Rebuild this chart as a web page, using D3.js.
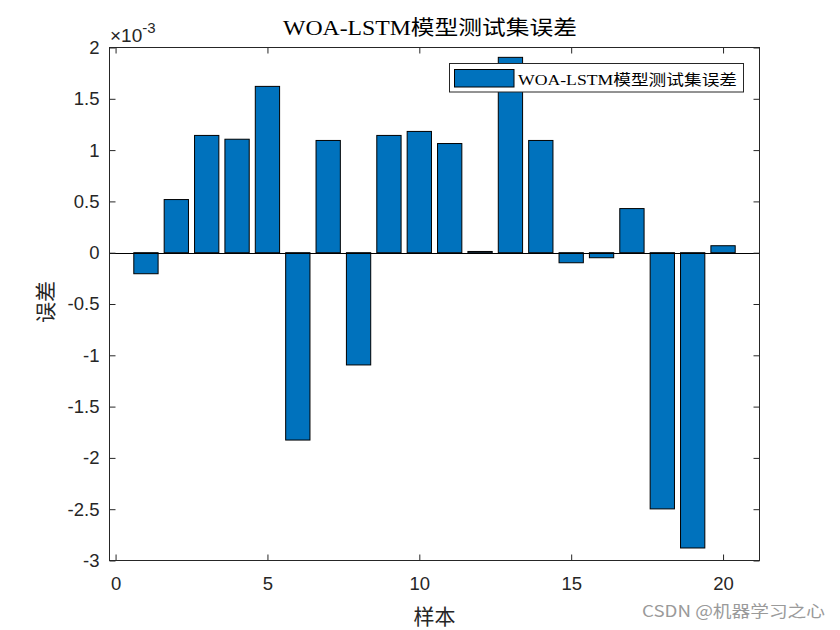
<!DOCTYPE html>
<html>
<head>
<meta charset="utf-8">
<script src="https://cdn.jsdelivr.net/npm/d3@7"></script>
<style>
  html, body { margin: 0; padding: 0; background: #fff; }
  svg { display: block; }
</style>
</head>
<body>
<svg id="chart" width="840" height="630"></svg>
<script>
// ---- data ----
const samples = d3.range(1, 21);
const errors = [
  -0.000205, 0.000518, 0.001143, 0.001106, 0.001621,
  -0.001826, 0.001094, -0.001094, 0.001143, 0.001182,
  0.001064, 0.000012, 0.001904, 0.001094, -0.000098,
  -0.000049, 0.000430, -0.002497, -0.002878, 0.000068
];
const xTicks = [0, 5, 10, 15, 20];
const yTicks = [-0.003, -0.0025, -0.002, -0.0015, -0.001, -0.0005, 0, 0.0005, 0.001, 0.0015, 0.002];
const titleText = "WOA-LSTM模型测试集误差";
const legendText = "WOA-LSTM模型测试集误差";
const xLabel = "样本";
const yLabel = "误差";
const watermark = "CSDN @机器学习之心";

// ---- layout ----
const L = 109.5, R = 759.5, T = 47.5, B = 560.5;
const axisColor = "#262626";
const barColor = "#0072BD";

const svg = d3.select("#chart");
const x = d3.scaleLinear().domain([-0.2, 21.2]).range([L, R]);
const y = d3.scaleLinear().domain([-0.003, 0.002]).range([B, T]);
const fmt = d => String(+(d * 1000).toFixed(2));

// bars
const bw = x(0.8) - x(0);
svg.append("g").selectAll("rect").data(samples).join("rect")
  .attr("x", (d) => x(d) - bw / 2)
  .attr("width", bw)
  .attr("y", (d, i) => y(Math.max(0, errors[i])))
  .attr("height", (d, i) => Math.abs(y(errors[i]) - y(0)))
  .attr("fill", barColor)
  .attr("stroke", "#000")
  .attr("stroke-width", 1);

// baseline
svg.append("line")
  .attr("x1", L).attr("x2", R)
  .attr("y1", Math.round(y(0)) + 0.5).attr("y2", Math.round(y(0)) + 0.5)
  .attr("stroke", "#000").attr("stroke-width", 1);

// axes
const tickFont = "'Liberation Sans', Arial, sans-serif";
function styleAxis(g, showLabels) {
  g.select(".domain").remove();
  g.selectAll(".tick line").attr("stroke", axisColor);
  g.selectAll(".tick text")
    .attr("fill", axisColor)
    .style("font-family", tickFont)
    .style("font-size", "18.5px");
  if (!showLabels) g.selectAll(".tick text").remove();
}
svg.append("g").attr("transform", `translate(0,${B})`)
  .call(d3.axisBottom(x).tickValues(xTicks).tickSize(-6).tickPadding(16).tickFormat(d3.format("d")))
  .call(g => styleAxis(g, true));
svg.append("g").attr("transform", `translate(0,${T})`)
  .call(d3.axisTop(x).tickValues(xTicks).tickSize(-6))
  .call(g => styleAxis(g, false));
svg.append("g").attr("transform", `translate(${L},0)`)
  .call(d3.axisLeft(y).tickValues(yTicks).tickSize(-6).tickPadding(10).tickFormat(fmt))
  .call(g => styleAxis(g, true));
svg.append("g").attr("transform", `translate(${R},0)`)
  .call(d3.axisRight(y).tickValues(yTicks).tickSize(-6))
  .call(g => styleAxis(g, false));

// frame
svg.append("rect")
  .attr("x", L).attr("y", T).attr("width", R - L).attr("height", B - T)
  .attr("fill", "none").attr("stroke", axisColor).attr("stroke-width", 1);

// exponent label
const ex = svg.append("text")
  .attr("x", 110).attr("y", 42)
  .attr("fill", axisColor)
  .style("font-family", tickFont).style("font-size", "19px");
ex.append("tspan").text("×10");
ex.append("tspan").attr("dy", -9).style("font-size", "15px").text("-3");

// title
svg.append("text")
  .attr("x", 430).attr("y", 35)
  .attr("text-anchor", "middle")
  .attr("fill", "#000")
  .attr("textLength", 294).attr("lengthAdjust", "spacingAndGlyphs")
  .style("font-family", "'Liberation Serif', 'Times New Roman', 'Noto Sans CJK SC', serif")
  .style("font-size", "20px")
  .text(titleText);

// axis labels
svg.append("text")
  .attr("x", (L + R) / 2).attr("y", 624)
  .attr("text-anchor", "middle")
  .attr("fill", axisColor)
  .style("font-family", "'Noto Sans CJK SC', sans-serif")
  .style("font-size", "21px")
  .text(xLabel);
svg.append("text")
  .attr("transform", `translate(53,${(T + B) / 2 - 2}) rotate(-90)`)
  .attr("text-anchor", "middle")
  .attr("fill", axisColor)
  .style("font-family", "'Noto Sans CJK SC', sans-serif")
  .style("font-size", "21px")
  .text(yLabel);

// legend
const lg = svg.append("g");
lg.append("rect")
  .attr("x", 449.5).attr("y", 63.5).attr("width", 294).attr("height", 28.5)
  .attr("fill", "#fff").attr("stroke", axisColor).attr("stroke-width", 1);
lg.append("rect")
  .attr("x", 454.5).attr("y", 69.5).attr("width", 59.5).attr("height", 17.5)
  .attr("fill", barColor).attr("stroke", "#000").attr("stroke-width", 1);
lg.append("text")
  .attr("x", 518).attr("y", 84.5)
  .attr("fill", "#000")
  .attr("textLength", 219).attr("lengthAdjust", "spacingAndGlyphs")
  .style("font-family", "'Liberation Serif', 'Times New Roman', 'Noto Sans CJK SC', serif")
  .style("font-size", "15px")
  .text(legendText);

// watermark
svg.append("text")
  .attr("x", 825).attr("y", 617)
  .attr("text-anchor", "end")
  .attr("fill", "#9a9a9a")
  .attr("textLength", 183).attr("lengthAdjust", "spacingAndGlyphs")
  .style("font-family", "'Noto Sans CJK SC', sans-serif")
  .style("font-size", "16px")
  .text(watermark);
</script>
</body>
</html>
